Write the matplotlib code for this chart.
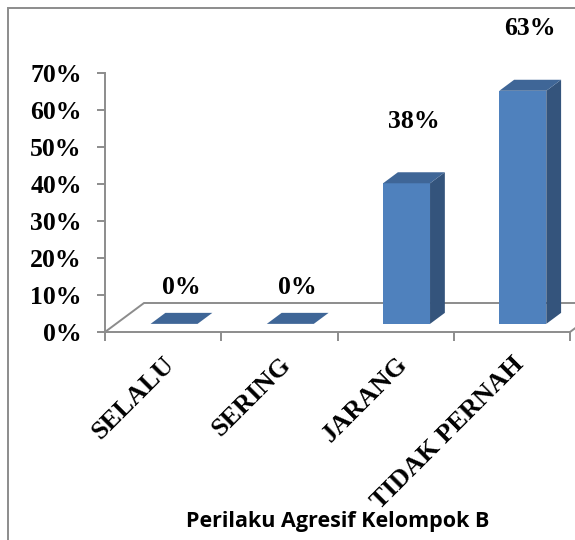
import matplotlib
matplotlib.use("Agg")
import matplotlib.pyplot as plt
from matplotlib.patches import Polygon, Rectangle
from matplotlib.ticker import FixedLocator, PercentFormatter

# ---- data -------------------------------------------------------------
categories = ["SELALU", "SERING", "JARANG", "TIDAK PERNAH"]
values = [0, 0, 38, 63]          # percent
y_ticks = [0, 10, 20, 30, 40, 50, 60, 70]
title = "Perilaku Agresif Kelompok B"

# ---- style ------------------------------------------------------------
W, H = 575, 540
SERIF = "Liberation Serif"
FS = 18.5
GREY = "#8c8c8c"
FRONT = "#4F81BD"
TOP = "#3F6697"
SIDE = "#34547C"

fig = plt.figure(figsize=(W / 100, H / 100), dpi=100)
ax = fig.add_axes([105 / W, (H - 332) / H, 465 / W, 259 / H])
ax.set_xlim(-0.5, len(categories) - 0.5)
ax.set_ylim(0, 70)
ax.patch.set_visible(False)

# pixel -> data conversion for the oblique depth axis
px_x = ax.bbox.width / len(categories)
px_y = ax.bbox.height / 70.0
floor_dx, floor_dy = 39 / px_x, 29 / px_y      # full floor depth
f0, f1 = 0.28, 0.66                           # bar front / back depth fraction
half_w = 0.202

# floor
n = len(categories)
floor = Polygon([(-0.5, 0), (n - 0.5, 0), (n - 0.5 + floor_dx, floor_dy),
                 (-0.5 + floor_dx, floor_dy)], closed=True, fill=False,
                edgecolor=GREY, lw=1.4, clip_on=False, zorder=1)
ax.add_patch(floor)

# 3-D columns
bdx, bdy = floor_dx * (f1 - f0), floor_dy * (f1 - f0)
for i, v in enumerate(values):
    x0 = i - half_w + floor_dx * f0
    x1 = i + half_w + floor_dx * f0
    yb = floor_dy * f0
    yt = yb + v
    if v > 0:
        ax.add_patch(Polygon([(x0, yb), (x1, yb), (x1, yt), (x0, yt)],
                             closed=True, facecolor=FRONT, edgecolor="none",
                             clip_on=False, zorder=3))
        ax.add_patch(Polygon([(x1, yb), (x1 + bdx, yb + bdy),
                              (x1 + bdx, yt + bdy), (x1, yt)],
                             closed=True, facecolor=SIDE, edgecolor="none",
                             clip_on=False, zorder=3))
    ax.add_patch(Polygon([(x0, yt), (x1, yt), (x1 + bdx, yt + bdy),
                          (x0 + bdx, yt + bdy)],
                         closed=True, facecolor=TOP, edgecolor="none",
                         clip_on=False, zorder=3))
    off = 44.6 if v > 0 else 26.5
    ax.annotate(f"{v:.0f}%", xy=(i + floor_dx * (f0 + f1) / 2, yt),
                xytext=(0, off), textcoords="offset points",
                ha="center", va="center", fontsize=FS, fontweight="bold",
                family=SERIF, annotation_clip=False, zorder=5)

# axes styling
for s in ("top", "right", "bottom"):
    ax.spines[s].set_visible(False)
ax.spines["left"].set_color(GREY)
ax.spines["left"].set_linewidth(1.4)

ax.yaxis.set_major_locator(FixedLocator(y_ticks))
ax.yaxis.set_major_formatter(PercentFormatter(decimals=0))
ax.tick_params(axis="y", length=5.8, width=1.4, color=GREY, pad=11,
               labelsize=FS)
for lab in ax.get_yticklabels():
    lab.set_family(SERIF)
    lab.set_fontweight("bold")

ax.set_xticks(range(n))
ax.set_xticks([k - 0.5 for k in range(n + 1)], minor=True)
ax.set_xticklabels(categories, rotation=45, ha="right",
                   rotation_mode="anchor", family=SERIF,
                   fontweight="bold", fontsize=19)
ax.tick_params(axis="x", which="major", length=0, pad=15)
ax.tick_params(axis="x", which="minor", length=6.5, width=1.4, color=GREY)

# title below the categories
fig.text(338 / W, 1 - 522 / H, title, ha="center", va="center",
         family="Open Sans", fontweight="bold", fontsize=15.5)

# outer chart frame
fig.patches.append(Rectangle((8, -20), 700, H - 8 + 20, fill=False,
                             edgecolor=GREY, lw=1.4, transform=None))

fig.savefig("out.png", dpi=100)
